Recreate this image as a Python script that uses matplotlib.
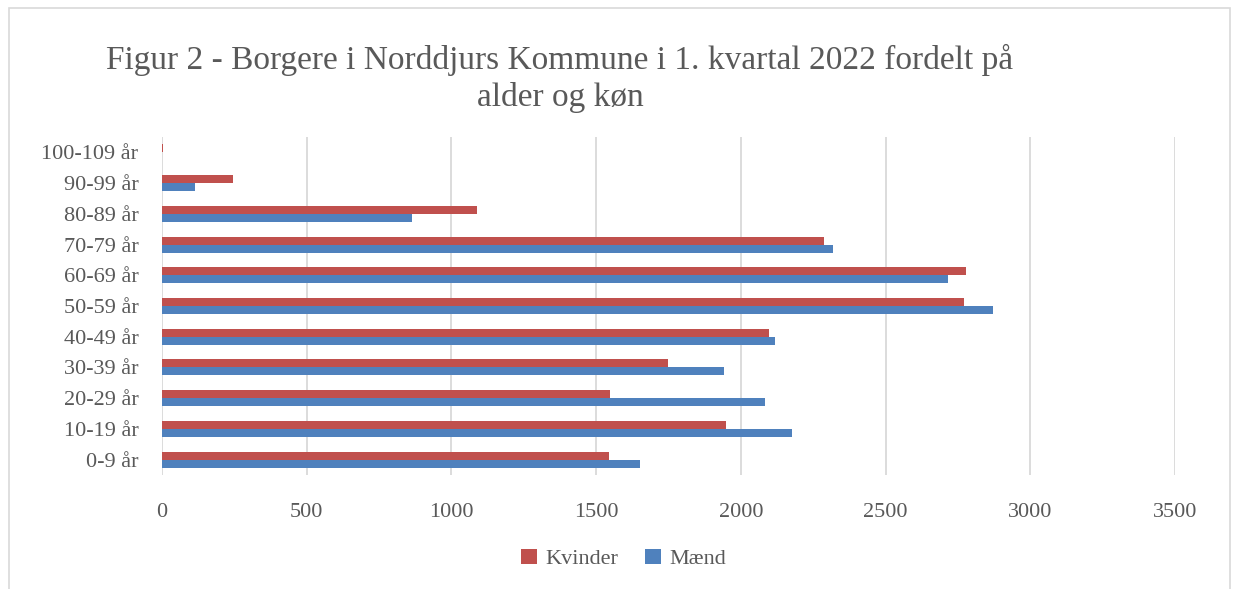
import matplotlib.pyplot as plt
import matplotlib.patches as mpatches
import numpy as np

# age groups, bottom to top as drawn
age_groups = ['0-9 år', '10-19 år', '20-29 år', '30-39 år', '40-49 år',
              '50-59 år', '60-69 år', '70-79 år', '80-89 år', '90-99 år',
              '100-109 år']
kvinder = [1546, 1947, 1547, 1747, 2097, 2771, 2777, 2287, 1088, 244, 5]
maend = [1653, 2176, 2082, 1943, 2119, 2870, 2714, 2320, 864, 114, 1]
x_ticks = [0, 500, 1000, 1500, 2000, 2500, 3000, 3500]

RED = '#C0504D'
BLUE = '#4F81BD'
GRID = '#D9D9D9'
TEXT = '#595959'

plt.rcParams['font.family'] = ['Liberation Serif', 'DejaVu Serif']

W, H = 1236, 589
fig = plt.figure(figsize=(W / 100, H / 100), dpi=100)

# outer chart frame
fig.patches.append(mpatches.Rectangle((9 / W, -0.02), 1221 / W, 1 - 8 / H + 0.02,
                                      transform=fig.transFigure, fill=False,
                                      edgecolor=GRID, linewidth=1.2))

ax = fig.add_axes([162 / W, 114 / H, 1013 / W, 338 / H])

y = np.arange(len(age_groups))
h = 0.26
ax.barh(y + h / 2, kvinder, height=h, color=RED, label='Kvinder')
ax.barh(y - h / 2, maend, height=h, color=BLUE, label='Mænd')

ax.set_xlim(0, 3500)
ax.set_ylim(-0.5, len(age_groups) - 0.5)
ax.set_xticks(x_ticks)
ax.set_yticks(y)
ax.set_yticklabels(age_groups)
ax.xaxis.grid(True, color=GRID, linewidth=1.3)
ax.set_axisbelow(True)
for s in ax.spines.values():
    s.set_visible(False)
ax.tick_params(length=0, labelsize=16, labelcolor=TEXT)
ax.tick_params(axis='x', pad=20)
ax.tick_params(axis='y', pad=17)

fig.text(560 / W, 1 - 44 / H, 'Figur 2 - Borgere i Norddjurs Kommune i 1. kvartal 2022 fordelt på\nalder og køn',
         ha='center', va='top', multialignment='center', fontsize=24,
         color=TEXT, linespacing=1.25)

fig.legend(loc='center', bbox_to_anchor=(624 / W, 1 - 559 / H), ncol=2,
           frameon=False, fontsize=16, labelcolor=TEXT, handlelength=0.7,
           handleheight=0.7, handletextpad=0.4, columnspacing=1.2)

fig.savefig('out.png', dpi=100)
